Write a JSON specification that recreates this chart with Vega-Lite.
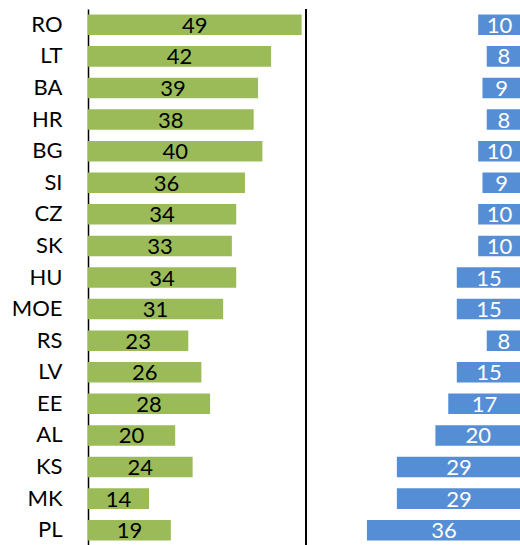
{
  "$schema": "https://vega.github.io/schema/vega-lite/v6.json",
  "padding": {"left": 0, "top": 8, "right": 0, "bottom": 0},
  "background": "white",
  "config": {"view": {"stroke": null}, "concat": {"spacing": 0}},
  "data": {"values": [
    {"country": "RO", "left": 49, "right": 10},
    {"country": "LT", "left": 42, "right": 8},
    {"country": "BA", "left": 39, "right": 9},
    {"country": "HR", "left": 38, "right": 8},
    {"country": "BG", "left": 40, "right": 10},
    {"country": "SI", "left": 36, "right": 9},
    {"country": "CZ", "left": 34, "right": 10},
    {"country": "SK", "left": 33, "right": 10},
    {"country": "HU", "left": 34, "right": 15},
    {"country": "MOE", "left": 31, "right": 15},
    {"country": "RS", "left": 23, "right": 8},
    {"country": "LV", "left": 26, "right": 15},
    {"country": "EE", "left": 28, "right": 17},
    {"country": "AL", "left": 20, "right": 20},
    {"country": "KS", "left": 24, "right": 29},
    {"country": "MK", "left": 14, "right": 29},
    {"country": "PL", "left": 19, "right": 36}
  ]},
  "spacing": 0,
  "hconcat": [
    {
      "width": 218,
      "height": 537,
      "encoding": {
        "y": {"field": "country", "type": "nominal",
          "sort": ["RO","LT","BA","HR","BG","SI","CZ","SK","HU","MOE","RS","LV","EE","AL","KS","MK","PL"],
          "scale": {"paddingInner": 0.35, "paddingOuter": 0.175},
          "axis": {"title": null, "ticks": false, "labelPadding": 26, "minExtent": 88, "maxExtent": 88,
            "labelFont": "Lato", "labelFontSize": 22, "labelColor": "#000000",
            "domainColor": "#000000", "domainWidth": 1.5}}
      },
      "layer": [
        {"mark": {"type": "bar", "color": "#9BBB59"},
         "encoding": {"x": {"field": "left", "type": "quantitative", "scale": {"domain": [0, 50], "nice": false}, "axis": null}}},
        {"mark": {"type": "rule", "color": "#000000", "strokeWidth": 1.5},
         "encoding": {"x": {"datum": 50, "type": "quantitative", "scale": {"domain": [0, 50], "nice": false}, "axis": null}, "y": null}},
        {"mark": {"type": "text", "font": "Lato", "fontSize": 22, "color": "#000000", "align": "center", "baseline": "middle", "dy": 1},
         "encoding": {"x": {"field": "left", "type": "quantitative", "scale": {"domain": [0, 100], "nice": false}, "axis": null},
           "text": {"field": "left", "type": "quantitative"}}}
      ],
      "resolve": {"scale": {"x": "independent"}}
    },
    {
      "width": 214,
      "height": 537,
      "encoding": {
        "y": {"field": "country", "type": "nominal",
          "sort": ["RO","LT","BA","HR","BG","SI","CZ","SK","HU","MOE","RS","LV","EE","AL","KS","MK","PL"],
          "scale": {"paddingInner": 0.35, "paddingOuter": 0.175},
          "axis": null}
      },
      "layer": [
        {"mark": {"type": "bar", "color": "#558ED5"},
         "encoding": {"x": {"field": "right", "type": "quantitative", "scale": {"domain": [0, 50], "nice": false, "reverse": true}, "axis": null}}},
        {"mark": {"type": "text", "font": "Lato", "fontSize": 22, "color": "#FFFFFF", "align": "center", "baseline": "middle", "dy": 1},
         "encoding": {"x": {"field": "right", "type": "quantitative", "scale": {"domain": [0, 100], "nice": false, "reverse": true}, "axis": null},
           "text": {"field": "right", "type": "quantitative"}}}
      ],
      "resolve": {"scale": {"x": "independent"}}
    }
  ]
}
